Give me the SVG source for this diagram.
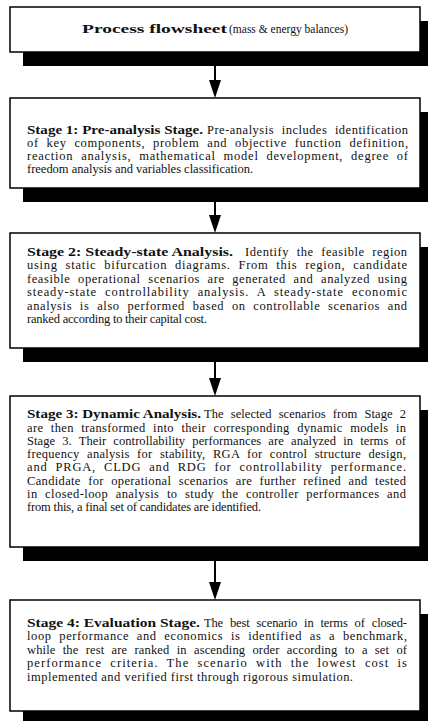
<svg xmlns="http://www.w3.org/2000/svg" width="428" height="721" viewBox="0 0 428 721">
  <defs>
    <style>
      .shadow { fill: #000; }
      .box { fill: #fff; stroke: #000; stroke-width: 1.5; }
      .t { font-family: "Liberation Serif", "Times New Roman", serif; font-size: 12.5px; fill: #111; }
      .b { font-weight: bold; }
      .j { word-spacing: 4px; }
      .link { stroke: #000; stroke-width: 2; fill: none; marker-end: url(#arrow); }
    </style>
    <marker id="arrow" viewBox="0 -6 18 12" refX="15" refY="0" markerWidth="18" markerHeight="12" markerUnits="userSpaceOnUse" orient="auto">
      <path d="M0,-6 L18,0 L0,6 z" fill="#000"/>
    </marker>
  </defs>

  <!-- connectors between stages -->
  <g id="connectors">
    <line class="link" x1="215" y1="66" x2="215" y2="95"/>
    <line class="link" x1="215" y1="202" x2="215" y2="230"/>
    <line class="link" x1="215" y1="362" x2="215" y2="393"/>
    <line class="link" x1="215" y1="561" x2="215" y2="597"/>
  </g>

  <!-- process flowsheet -->
  <g id="flowsheet">
    <rect class="shadow" x="23" y="21" width="410" height="45"/>
    <rect class="box" x="10" y="7" width="410" height="45"/>
    <text class="t b" x="82" y="33" textLength="145" lengthAdjust="spacingAndGlyphs">Process flowsheet</text>
    <text class="t" x="229" y="33" textLength="119" lengthAdjust="spacingAndGlyphs">(mass &amp; energy balances)</text>
  </g>

  <!-- stage 1 -->
  <g id="stage1">
    <rect class="shadow" x="23" y="112" width="410" height="90"/>
    <rect class="box" x="10" y="98" width="410" height="90"/>
    <text class="t b" x="27" y="133.5" textLength="176" lengthAdjust="spacingAndGlyphs">Stage 1: Pre-analysis Stage.</text>
    <text class="t j" x="207" y="133.5" textLength="201" lengthAdjust="spacing">Pre-analysis includes identification</text>
    <text class="t j" x="27" y="146.8" textLength="381" lengthAdjust="spacing">of key components, problem and objective function definition,</text>
    <text class="t j" x="27" y="160.1" textLength="381" lengthAdjust="spacing">reaction analysis, mathematical model development, degree of</text>
    <text class="t" x="27" y="173.4" textLength="226" lengthAdjust="spacing">freedom analysis and variables classification.</text>
  </g>

  <!-- stage 2 -->
  <g id="stage2">
    <rect class="shadow" x="23" y="247" width="410" height="115"/>
    <rect class="box" x="10" y="233" width="410" height="115"/>
    <text class="t b" x="27" y="255.7" textLength="206" lengthAdjust="spacingAndGlyphs">Stage 2: Steady-state Analysis.</text>
    <text class="t j" x="245" y="255.7" textLength="162" lengthAdjust="spacing">Identify the feasible region</text>
    <text class="t j" x="27" y="269.2" textLength="380" lengthAdjust="spacing">using static bifurcation diagrams. From this region, candidate</text>
    <text class="t j" x="27" y="282.7" textLength="380" lengthAdjust="spacing">feasible operational scenarios are generated and analyzed using</text>
    <text class="t j" x="27" y="296.2" textLength="380" lengthAdjust="spacing">steady-state controllability analysis. A steady-state economic</text>
    <text class="t j" x="27" y="309.7" textLength="380" lengthAdjust="spacing">analysis is also performed based on controllable scenarios and</text>
    <text class="t" x="27" y="323.2" textLength="180" lengthAdjust="spacing">ranked according to their capital cost.</text>
  </g>

  <!-- stage 3 -->
  <g id="stage3">
    <rect class="shadow" x="23" y="410" width="410" height="151"/>
    <rect class="box" x="10" y="396" width="410" height="151"/>
    <text class="t b" x="27" y="418.3" textLength="174" lengthAdjust="spacingAndGlyphs">Stage 3: Dynamic Analysis.</text>
    <text class="t j" x="204" y="418.3" textLength="202" lengthAdjust="spacing">The selected scenarios from Stage 2</text>
    <text class="t j" x="27" y="431.5" textLength="379" lengthAdjust="spacing">are then transformed into their corresponding dynamic models in</text>
    <text class="t j" x="27" y="444.8" textLength="379" lengthAdjust="spacing">Stage 3. Their controllability performances are analyzed in terms of</text>
    <text class="t j" x="27" y="458" textLength="379" lengthAdjust="spacing">frequency analysis for stability, RGA for control structure design,</text>
    <text class="t j" x="27" y="471.3" textLength="379" lengthAdjust="spacing">and PRGA, CLDG and RDG for controllability performance.</text>
    <text class="t j" x="27" y="484.5" textLength="379" lengthAdjust="spacing">Candidate for operational scenarios are further refined and tested</text>
    <text class="t j" x="27" y="497.8" textLength="379" lengthAdjust="spacing">in closed-loop analysis to study the controller performances and</text>
    <text class="t" x="27" y="511" textLength="234" lengthAdjust="spacing">from this, a final set of candidates are identified.</text>
  </g>

  <!-- stage 4 -->
  <g id="stage4">
    <rect class="shadow" x="23" y="614" width="410" height="111"/>
    <rect class="box" x="10" y="600" width="410" height="111"/>
    <text class="t b" x="27" y="626.7" textLength="173" lengthAdjust="spacingAndGlyphs">Stage 4: Evaluation Stage.</text>
    <text class="t j" x="204" y="626.7" textLength="203" lengthAdjust="spacing">The best scenario in terms of closed-</text>
    <text class="t j" x="27" y="640.2" textLength="380" lengthAdjust="spacing">loop performance and economics is identified as a benchmark,</text>
    <text class="t j" x="27" y="653.7" textLength="380" lengthAdjust="spacing">while the rest are ranked in ascending order according to a set of</text>
    <text class="t j" x="27" y="667.2" textLength="380" lengthAdjust="spacing">performance criteria. The scenario with the lowest cost is</text>
    <text class="t" x="27" y="680.7" textLength="326" lengthAdjust="spacing">implemented and verified first through rigorous simulation.</text>
  </g>
</svg>
